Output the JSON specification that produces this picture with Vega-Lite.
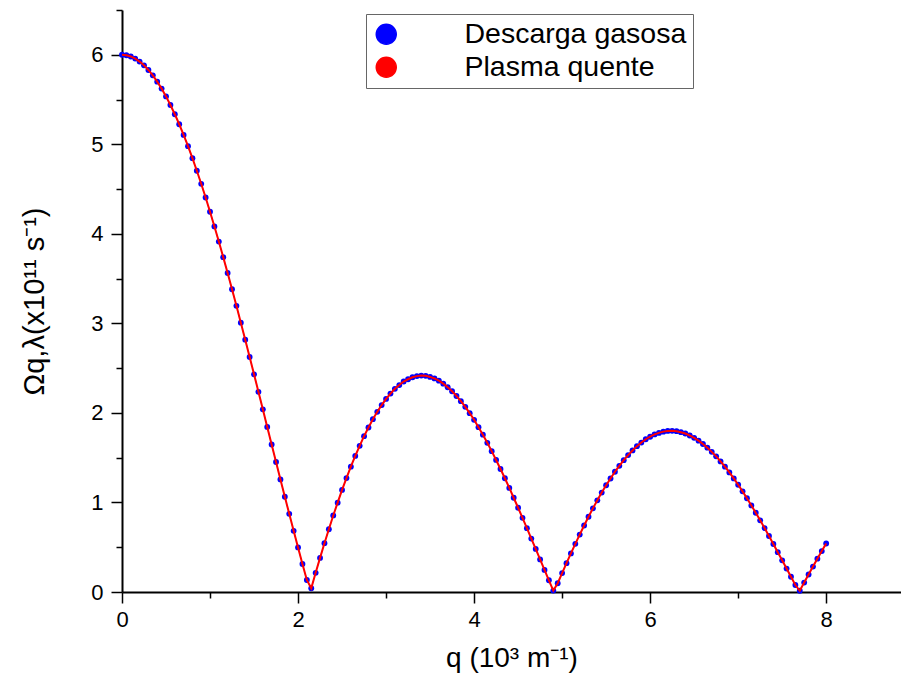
{
  "$schema": "https://vega.github.io/schema/vega-lite/v6.json",
  "width": 779,
  "height": 582,
  "autosize": {"type": "none"},
  "padding": {"left": 122, "top": 10, "right": 0, "bottom": 97},
  "background": "white",
  "config": {"view": {"stroke": null}, "font": "Liberation Sans"},
  "data": {"values": [
    {"q":0,"v":6.000},{"q":0.05,"v":5.995},{"q":0.1,"v":5.981},{"q":0.15,"v":5.957},{"q":0.2,"v":5.924},{"q":0.25,"v":5.882},{"q":0.3,"v":5.830},{"q":0.35,"v":5.770},{"q":0.4,"v":5.700},{"q":0.45,"v":5.622},
    {"q":0.5,"v":5.535},{"q":0.55,"v":5.439},{"q":0.6,"v":5.336},{"q":0.65,"v":5.224},{"q":0.7,"v":5.105},{"q":0.75,"v":4.979},{"q":0.8,"v":4.845},{"q":0.85,"v":4.705},{"q":0.9,"v":4.559},{"q":0.95,"v":4.406},
    {"q":1.0,"v":4.247},{"q":1.05,"v":4.083},{"q":1.1,"v":3.914},{"q":1.15,"v":3.740},{"q":1.2,"v":3.563},{"q":1.25,"v":3.381},{"q":1.3,"v":3.196},{"q":1.35,"v":3.008},{"q":1.4,"v":2.818},{"q":1.45,"v":2.625},
    {"q":1.5,"v":2.431},{"q":1.55,"v":2.236},{"q":1.6,"v":2.040},{"q":1.65,"v":1.844},{"q":1.7,"v":1.647},{"q":1.75,"v":1.452},{"q":1.8,"v":1.257},{"q":1.85,"v":1.064},{"q":1.9,"v":0.873},{"q":1.95,"v":0.683},
    {"q":2.0,"v":0.498},{"q":2.05,"v":0.313},{"q":2.1,"v":0.134},{"q":2.15,"v":0.042},{"q":2.2,"v":0.214},{"q":2.25,"v":0.381},{"q":2.3,"v":0.545},{"q":2.35,"v":0.701},{"q":2.4,"v":0.855},{"q":2.45,"v":0.998},
    {"q":2.5,"v":1.140},{"q":2.55,"v":1.272},{"q":2.6,"v":1.400},{"q":2.65,"v":1.520},{"q":2.7,"v":1.632},{"q":2.75,"v":1.740},{"q":2.8,"v":1.837},{"q":2.85,"v":1.930},{"q":2.9,"v":2.012},{"q":2.95,"v":2.088},
    {"q":3.0,"v":2.156},{"q":3.05,"v":2.216},{"q":3.1,"v":2.269},{"q":3.15,"v":2.311},{"q":3.2,"v":2.351},{"q":3.25,"v":2.376},{"q":3.3,"v":2.398},{"q":3.35,"v":2.411},{"q":3.4,"v":2.417},{"q":3.45,"v":2.414},
    {"q":3.5,"v":2.402},{"q":3.55,"v":2.385},{"q":3.6,"v":2.360},{"q":3.65,"v":2.327},{"q":3.7,"v":2.287},{"q":3.75,"v":2.242},{"q":3.8,"v":2.189},{"q":3.85,"v":2.131},{"q":3.9,"v":2.068},{"q":3.95,"v":1.997},
    {"q":4.0,"v":1.923},{"q":4.05,"v":1.841},{"q":4.1,"v":1.757},{"q":4.15,"v":1.666},{"q":4.2,"v":1.573},{"q":4.25,"v":1.475},{"q":4.3,"v":1.374},{"q":4.35,"v":1.270},{"q":4.4,"v":1.162},{"q":4.45,"v":1.053},
    {"q":4.5,"v":0.941},{"q":4.55,"v":0.828},{"q":4.6,"v":0.713},{"q":4.65,"v":0.597},{"q":4.7,"v":0.481},{"q":4.75,"v":0.364},{"q":4.8,"v":0.247},{"q":4.85,"v":0.131},{"q":4.9,"v":0.016},{"q":4.95,"v":0.098},
    {"q":5.0,"v":0.211},{"q":5.05,"v":0.322},{"q":5.1,"v":0.431},{"q":5.15,"v":0.538},{"q":5.2,"v":0.641},{"q":5.25,"v":0.743},{"q":5.3,"v":0.840},{"q":5.35,"v":0.934},{"q":5.4,"v":1.024},{"q":5.45,"v":1.110},
    {"q":5.5,"v":1.192},{"q":5.55,"v":1.268},{"q":5.6,"v":1.343},{"q":5.65,"v":1.409},{"q":5.7,"v":1.472},{"q":5.75,"v":1.529},{"q":5.8,"v":1.581},{"q":5.85,"v":1.629},{"q":5.9,"v":1.669},{"q":5.95,"v":1.706},
    {"q":6.0,"v":1.734},{"q":6.05,"v":1.760},{"q":6.1,"v":1.777},{"q":6.15,"v":1.791},{"q":6.2,"v":1.799},{"q":6.25,"v":1.800},{"q":6.3,"v":1.796},{"q":6.35,"v":1.785},{"q":6.4,"v":1.770},{"q":6.45,"v":1.748},
    {"q":6.5,"v":1.722},{"q":6.55,"v":1.690},{"q":6.6,"v":1.653},{"q":6.65,"v":1.612},{"q":6.7,"v":1.565},{"q":6.75,"v":1.515},{"q":6.8,"v":1.458},{"q":6.85,"v":1.400},{"q":6.9,"v":1.336},{"q":6.95,"v":1.269},
    {"q":7.0,"v":1.198},{"q":7.05,"v":1.124},{"q":7.1,"v":1.047},{"q":7.15,"v":0.967},{"q":7.2,"v":0.885},{"q":7.25,"v":0.800},{"q":7.3,"v":0.714},{"q":7.35,"v":0.625},{"q":7.4,"v":0.536},{"q":7.45,"v":0.445},
    {"q":7.5,"v":0.354},{"q":7.55,"v":0.262},{"q":7.6,"v":0.170},{"q":7.65,"v":0.078},{"q":7.7,"v":0.014},{"q":7.75,"v":0.105},{"q":7.8,"v":0.195},{"q":7.85,"v":0.284},{"q":7.9,"v":0.372},{"q":7.95,"v":0.457},
    {"q":8.0,"v":0.542}
  ]},
  "layer": [
    {
      "mark": {"type": "line", "color": "#9a9a9a", "strokeDash": [6, 4], "strokeWidth": 1},
      "encoding": {
        "x": {"field": "q", "type": "quantitative", "scale": {"domain": [0, 8.85], "nice": false, "zero": false},
          "axis": {"orient": "bottom", "values": [1, 3, 5, 7], "tickSize": 6, "tickWidth": 1.5, "tickColor": "#000", "labels": false, "domain": false, "grid": false, "title": null}},
        "y": {"field": "v", "type": "quantitative", "scale": {"domain": [0, 6.5], "nice": false, "zero": false},
          "axis": {"orient": "left", "values": [0.5, 1.5, 2.5, 3.5, 4.5, 5.5, 6.5], "tickSize": 6, "tickWidth": 1.5, "tickColor": "#000", "labels": false, "domain": false, "grid": false, "title": null}}
      }
    },
    {
      "mark": {"type": "point", "filled": true, "size": 34, "opacity": 1},
      "encoding": {
        "x": {"field": "q", "type": "quantitative",
          "axis": {"orient": "bottom", "values": [0, 2, 4, 6, 8], "format": "d", "tickSize": 11, "tickWidth": 1.5, "tickColor": "#000", "domainColor": "#000", "domainWidth": 2, "grid": false,
            "labelFontSize": 22, "labelColor": "#000", "labelPadding": 6, "labelFlush": false,
            "title": "q (10³ m⁻¹)", "titleFontSize": 28, "titleFontWeight": "normal", "titleColor": "#000", "titlePadding": 14}},
        "y": {"field": "v", "type": "quantitative",
          "axis": {"orient": "left", "values": [0, 1, 2, 3, 4, 5, 6], "format": "d", "tickSize": 11, "tickWidth": 1.5, "tickColor": "#000", "domainColor": "#000", "domainWidth": 2, "grid": false,
            "labelFontSize": 22, "labelColor": "#000", "labelPadding": 8, "labelFlush": false,
            "title": "Ωq,λ(x10¹¹ s⁻¹)", "titleFontSize": 29, "titleFontWeight": "normal", "titleColor": "#000", "titlePadding": 41}},
        "color": {"datum": "Descarga gasosa", "type": "nominal",
          "scale": {"domain": ["Descarga gasosa", "Plasma quente"], "range": ["#0000ff", "#ff0000"]},
          "legend": {"title": null, "orient": "none", "legendX": 244, "legendY": 4,
            "symbolSize": 400, "labelFontSize": 28.5, "labelColor": "#000", "labelFont": "Liberation Sans", "labelLimit": 0,
            "padding": 6, "rowPadding": 4, "labelOffset": 64, "strokeColor": "#666", "fillColor": "white"}}
      }
    },
    {
      "mark": {"type": "line", "strokeWidth": 2},
      "encoding": {
        "x": {"field": "q", "type": "quantitative", "axis": null},
        "y": {"field": "v", "type": "quantitative", "axis": null},
        "color": {"datum": "Plasma quente", "type": "nominal"}
      }
    }
  ],
  "resolve": {"axis": {"x": "independent", "y": "independent"}}
}
